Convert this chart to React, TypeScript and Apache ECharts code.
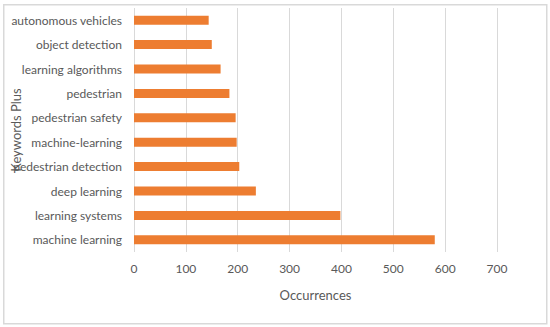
import React, { useEffect, useRef } from "react";
import * as echarts from "echarts";

const categories = [
  "machine learning",
  "learning systems",
  "deep learning",
  "pedestrian detection",
  "machine-learning",
  "pedestrian safety",
  "pedestrian",
  "learning algorithms",
  "object detection",
  "autonomous vehicles",
];
const occurrences = [580, 398, 235, 203, 198, 196, 184, 167, 150, 144];
const xTicks = [0, 100, 200, 300, 400, 500, 600, 700];

const FONT = "Lato";

export default function App() {
  const ref = useRef<HTMLDivElement>(null);
  useEffect(() => {
    const chart = echarts.init(ref.current!, null, { renderer: "svg" });
    chart.setOption({
      animation: false,
      backgroundColor: "#ffffff",
      graphic: [
        {
          type: "rect",
          left: 3,
          top: 4,
          z: 100,
          shape: { x: 0, y: 0, width: 543, height: 319 },
          style: { fill: "transparent", stroke: "#d9d9d9", lineWidth: 1.5 },
          silent: true,
        },
      ],
      grid: { left: 134, right: 53, top: 8, bottom: 75, outerBoundsMode: "none" },
      xAxis: {
        type: "value",
        min: xTicks[0],
        max: xTicks[xTicks.length - 1],
        interval: 100,
        name: "Occurrences",
        nameLocation: "middle",
        nameGap: 36,
        nameMoveOverlap: false,
        nameTextStyle: { color: "#595959", fontSize: 13, fontFamily: FONT },
        axisLine: { show: false },
        axisTick: { show: false },
        axisLabel: { color: "#595959", fontSize: 12, fontFamily: FONT, margin: 10 },
        splitLine: { show: true, lineStyle: { color: "#d9d9d9", width: 1 } },
      },
      yAxis: {
        type: "category",
        data: categories,
        name: "Keywords Plus",
        nameLocation: "middle",
        nameGap: 118,
        nameRotate: 90,
        nameMoveOverlap: false,
        nameTextStyle: { color: "#595959", fontSize: 13, fontFamily: FONT, verticalAlign: "middle" },
        axisLine: { show: false },
        axisTick: { show: false },
        axisLabel: { color: "#595959", fontSize: 12, fontFamily: FONT, margin: 12 },
        splitLine: { show: false },
      },
      series: [
        {
          type: "bar",
          data: occurrences,
          barWidth: 9,
          itemStyle: { color: "#ED7D31" },
        },
      ],
    });
    return () => chart.dispose();
  }, []);
  return (
    <div style={{ position: "fixed", left: 0, top: 0 }}>
      <div ref={ref} style={{ width: 550, height: 327 }} />
    </div>
  );
}
